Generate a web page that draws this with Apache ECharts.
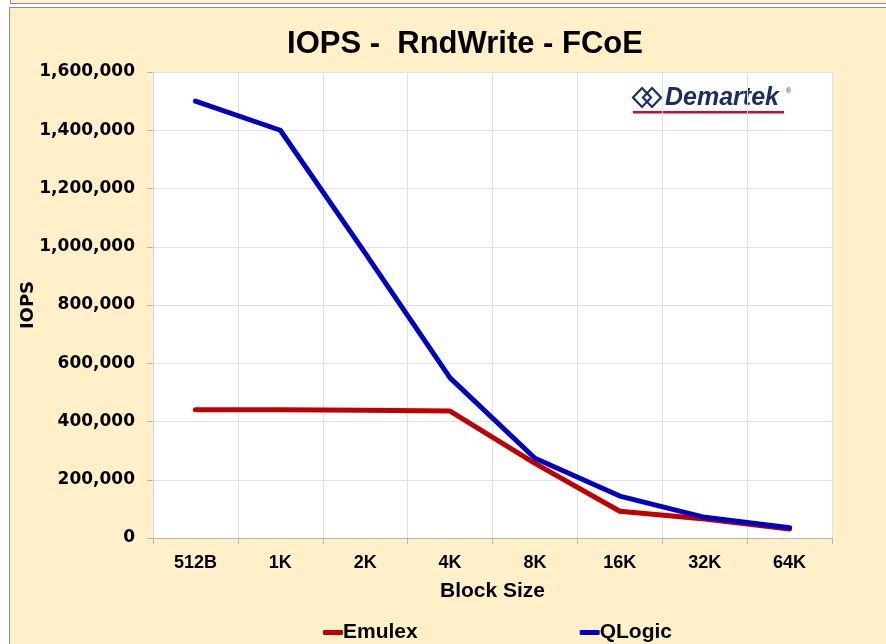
<!DOCTYPE html>
<html>
<head>
<meta charset="utf-8">
<script src="https://cdn.jsdelivr.net/npm/echarts@6/dist/echarts.min.js"></script>
<style>
  html, body { margin: 0; padding: 0; background: #ffffff; overflow: hidden; }
  .strip { position: absolute; left: 10px; top: -10px; width: 900px; height: 12px; background: #fff0c9; border: 1px solid #8c8c8c; }
  .box { position: absolute; left: 9px; top: 7px; width: 900px; height: 700px; background: #fff0c9; border: 1px solid #8c8c8c; }
  #chart { position: absolute; left: 0; top: 0; width: 886px; height: 644px; }
</style>
</head>
<body>
<div class="strip"></div>
<div class="box"></div>
<div id="chart"></div>
<script>
// block sizes on the x axis
const blockSizes = ['512B', '1K', '2K', '4K', '8K', '16K', '32K', '64K']
// IOPS per adapter
const emulexIops = [440000, 440000, 439000, 436000, 256000, 92000, 65000, 31000]
const qlogicIops = [1500000, 1400000, 978000, 550000, 274000, 144000, 71000, 35000]

const narrow = '"Liberation Sans Narrow", "Arial Narrow", sans-serif'
const navy = '#1c2d64'

const chart = echarts.init(document.getElementById('chart'))

// Demartek logo and the y axis title
const extras = [
  { type: 'polygon', shape: { points: [[642, 88], [651, 97.5], [642, 107], [633, 97.5]] },
    style: { fill: 'none', stroke: navy, lineWidth: 2.2 } },
  { type: 'polygon', shape: { points: [[652, 88], [661, 97.5], [652, 107], [643, 97.5]] },
    style: { fill: 'none', stroke: navy, lineWidth: 2.2 } },
  { type: 'text', x: 665, y: 98,
    style: { text: 'Demartek', fill: navy, font: 'italic bold 25px "Liberation Sans", Arial, sans-serif', verticalAlign: 'middle' } },
  { type: 'text', x: 786, y: 91,
    style: { text: '®', fill: navy, font: '7px sans-serif', verticalAlign: 'middle' } },
  { type: 'rect', shape: { x: 633, y: 111, width: 151, height: 2.5 }, style: { fill: '#c8102e' } },
  { type: 'text', x: 28, y: 305, rotation: Math.PI / 2,
    style: { text: 'IOPS', fill: '#000', font: 'bold 18px "DejaVu Sans", sans-serif', align: 'center', verticalAlign: 'middle' } }
]

chart.setOption({
  backgroundColor: 'transparent',
  animation: false,
  title: {
    text: 'IOPS -  RndWrite - FCoE',
    left: 460,
    top: 24,
    textAlign: 'center',
    textStyle: { fontFamily: narrow, fontWeight: 'bold', fontSize: 31, color: '#000' }
  },
  legend: {
    left: 318,
    top: 617,
    itemGap: 162,
    itemWidth: 20,
    itemHeight: 5,
    icon: 'roundRect',
    textStyle: { fontFamily: narrow, fontWeight: 'bold', fontSize: 21, color: '#000', padding: [0, 0, 0, -5] },
    data: ['Emulex', 'QLogic']
  },
  grid: { left: 153, right: 54, top: 72, bottom: 106, backgroundColor: '#ffffff', show: true, borderWidth: 0 },
  xAxis: {
    type: 'category',
    data: blockSizes,
    boundaryGap: true,
    name: 'Block Size',
    nameLocation: 'middle',
    nameGap: 43,
    nameTextStyle: { fontFamily: narrow, fontWeight: 'bold', fontSize: 21, color: '#000' },
    axisLine: { lineStyle: { color: '#b4b4b4', width: 1 } },
    axisTick: { show: true, length: 6, lineStyle: { color: '#b4b4b4' } },
    axisLabel: { margin: 16, fontFamily: narrow, fontWeight: 'bold', fontSize: 18, color: '#000' },
    splitLine: { show: true, lineStyle: { color: '#e2e2e2', width: 1 } }
  },
  yAxis: {
    type: 'value',
    min: 0,
    max: 1600000,
    interval: 200000,
    axisLine: { show: true, lineStyle: { color: '#d8d8d8', width: 1 } },
    axisTick: { show: true, length: 6, lineStyle: { color: '#b4b4b4' } },
    axisLabel: {
      margin: 18,
      fontFamily: 'DejaVu Sans',
      fontWeight: 'bold',
      fontSize: 17,
      color: '#000',
      formatter: v => v.toLocaleString('en-US')
    },
    splitLine: { show: true, lineStyle: { color: '#e2e2e2', width: 1 } }
  },
  series: [
    {
      name: 'Emulex',
      type: 'line',
      data: emulexIops,
      symbol: 'none',
      color: '#c00000',
      lineStyle: { width: 5, cap: 'round', join: 'round', color: '#c00000' }
    },
    {
      name: 'QLogic',
      type: 'line',
      data: qlogicIops,
      symbol: 'none',
      color: '#0000c0',
      lineStyle: { width: 5, cap: 'round', join: 'round', color: '#0000c0' }
    }
  ],
  graphic: extras
})
</script>
</body>
</html>
